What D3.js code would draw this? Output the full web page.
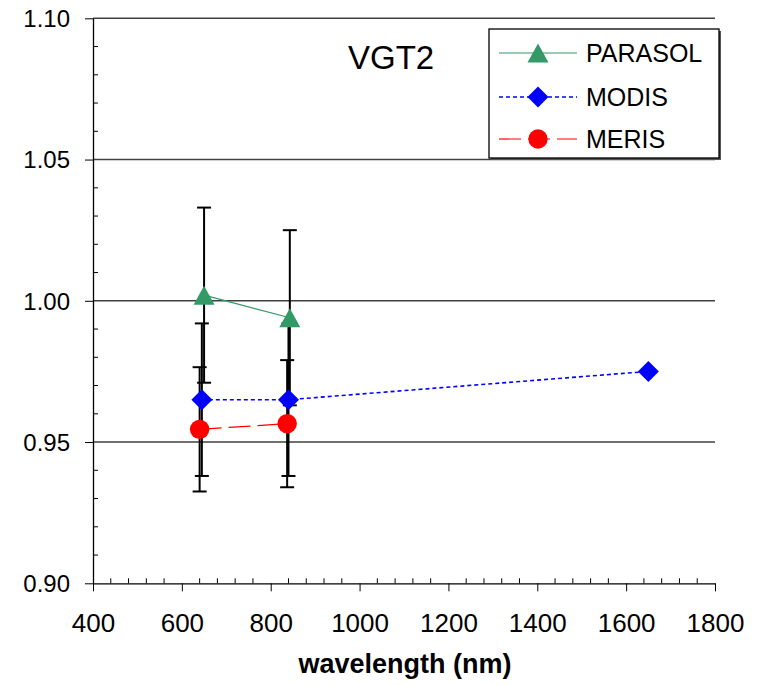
<!DOCTYPE html>
<html><head><meta charset="utf-8">
<script src="https://cdn.jsdelivr.net/npm/d3@7"></script>
<style>body{margin:0;background:#fff} text{font-family:"Liberation Sans",Arial,sans-serif;fill:#000}</style>
</head><body><svg id="c" width="769" height="686"></svg>
<script>
// ---- data ----
const xTicks = [400, 600, 800, 1000, 1200, 1400, 1600, 1800];
const yTicks = [0.90, 0.95, 1.00, 1.05, 1.10];
const yTickLabels = ["0.90", "0.95", "1.00", "1.05", "1.10"];
const seriesNames = ["PARASOL", "MODIS", "MERIS"];
const parasolX = [650, 843];
const parasolY = [1.002, 0.994];
const parasolErr = [0.031, 0.031];
const modisX = [645, 840, 1650];
const modisY = [0.965, 0.965, 0.975];
const modisErr = [0.027, 0.027, 0];
const merisX = [640, 837];
const merisY = [0.9545, 0.9565];
const merisErr = [0.022, 0.0225];
const chartTitle = "VGT2";
const xTitle = "wavelength (nm)";

// ---- layout ----
const svg = d3.select("#c");
const L = 93, R = 715, T = 18.3, B = 583.3;
const x = d3.scaleLinear().domain([400, 1800]).range([L, R]);
const y = d3.scaleLinear().domain([0.90, 1.10]).range([B, T]);

const series = [
  {name: seriesNames[0], xs: parasolX, ys: parasolY, err: parasolErr, color: "#339966", dash: null, sw: 1.2, marker: "tri"},
  {name: seriesNames[1], xs: modisX, ys: modisY, err: modisErr, color: "#0000ff", dash: "4,3", sw: 1.6, marker: "dia"},
  {name: seriesNames[2], xs: merisX, ys: merisY, err: merisErr, color: "#ff0000", dash: "22,7", sw: 1.2, marker: "cir"}
];

function markerPath(type, cx, cy, s) {
  const p = d3.path();
  if (type === "tri") {
    const w = 21 * s, h = 19 * s;
    p.moveTo(cx, cy - h / 2); p.lineTo(cx + w / 2, cy + h / 2); p.lineTo(cx - w / 2, cy + h / 2); p.closePath();
  } else if (type === "dia") {
    const r = 10.5 * s;
    p.moveTo(cx, cy - r); p.lineTo(cx + r, cy); p.lineTo(cx, cy + r); p.lineTo(cx - r, cy); p.closePath();
  } else {
    const r = 9.7 * s;
    p.moveTo(cx + r, cy); p.arc(cx, cy, r, 0, 2 * Math.PI);
  }
  return p.toString();
}

// gridlines
svg.append("g").selectAll("line").data(yTicks.filter(v => v > 0.90)).join("line")
  .attr("x1", L).attr("x2", R).attr("y1", d => y(d)).attr("y2", d => y(d))
  .attr("stroke", "#404040").attr("stroke-width", 1.5);

// minor ticks
const xMinor = d3.range(400, 1801, 40).filter(v => !xTicks.includes(v));
svg.append("g").selectAll("line").data(xMinor).join("line")
  .attr("x1", d => x(d)).attr("x2", d => x(d)).attr("y1", B).attr("y2", B - 5)
  .attr("stroke", "#000").attr("stroke-width", 1);
const yMinor = d3.range(0, 21).map(i => 0.90 + i * 0.01).filter(v => Math.abs(Math.round(v * 20) - v * 20) > 0.01);
svg.append("g").selectAll("line").data(yMinor).join("line")
  .attr("x1", L).attr("x2", L + 5).attr("y1", d => y(d)).attr("y2", d => y(d))
  .attr("stroke", "#000").attr("stroke-width", 1);

// axes
const xAxis = svg.append("g").attr("transform", `translate(0,${B})`)
  .call(d3.axisBottom(x).tickValues(xTicks).tickSize(8).tickSizeOuter(0).tickFormat(d3.format("d")));
xAxis.select(".domain").attr("stroke", "#000").attr("stroke-width", 1.3);
xAxis.selectAll(".tick line").attr("stroke", "#000");
xAxis.selectAll(".tick text").attr("font-size", 26).attr("y", 48.5).attr("dy", 0)
  .style("font-family", '"Liberation Sans",Arial,sans-serif');

const yAxis = svg.append("g").attr("transform", `translate(${L},0)`)
  .call(d3.axisLeft(y).tickValues(yTicks).tickSize(8).tickSizeOuter(0).tickFormat((d, i) => yTickLabels[i]));
yAxis.select(".domain").attr("stroke", "#000").attr("stroke-width", 1.3);
yAxis.selectAll(".tick line").attr("stroke", "#000");
yAxis.selectAll(".tick text").attr("font-size", 24).attr("x", -23).attr("dy", "0.35em")
  .style("font-family", '"Liberation Sans",Arial,sans-serif');

// error bars
const eb = svg.append("g");
series.forEach(s => {
  s.xs.forEach((xv, i) => {
    const e = s.err[i];
    if (!e) return;
    const cx = x(xv), y1 = y(s.ys[i] + e), y2 = y(s.ys[i] - e);
    eb.append("line").attr("x1", cx).attr("x2", cx).attr("y1", y1).attr("y2", y2).attr("stroke", "#000").attr("stroke-width", 2);
    [y1, y2].forEach(yy => eb.append("line").attr("x1", cx - 7).attr("x2", cx + 7).attr("y1", yy).attr("y2", yy).attr("stroke", "#000").attr("stroke-width", 2));
  });
});

// lines and markers
series.forEach(s => {
  const pts = s.xs.map((xv, i) => [xv, s.ys[i]]);
  svg.append("path").datum(pts)
    .attr("d", d3.line().x(d => x(d[0])).y(d => y(d[1])))
    .attr("fill", "none").attr("stroke", s.color).attr("stroke-width", s.sw)
    .attr("stroke-dasharray", s.dash);
});
series.forEach(s => {
  svg.append("g").selectAll("path").data(s.xs.map((xv, i) => [xv, s.ys[i]])).join("path")
    .attr("d", d => markerPath(s.marker, x(d[0]), y(d[1]), 1))
    .attr("fill", s.color);
});

// title
svg.append("text").attr("x", 348).attr("y", 69).attr("font-size", 33).text(chartTitle);

// x axis title
svg.append("text").attr("x", 405).attr("y", 673).attr("text-anchor", "middle")
  .attr("font-size", 27).attr("font-weight", "bold").text(xTitle);

// legend
const lg = svg.append("g");
lg.append("rect").attr("x", 491).attr("y", 31).attr("width", 230).attr("height", 129).attr("fill", "#555");
lg.append("rect").attr("x", 489).attr("y", 29).attr("width", 230).attr("height", 129)
  .attr("fill", "#fff").attr("stroke", "#000").attr("stroke-width", 1.3);
const rowsY = [53, 97, 139];
series.forEach((s, i) => {
  const yy = rowsY[i];
  lg.append("line").attr("x1", 499).attr("x2", 577).attr("y1", yy).attr("y2", yy)
    .attr("stroke", s.color).attr("stroke-width", s.sw).attr("stroke-dasharray", s.dash);
  lg.append("path").attr("d", markerPath(s.marker, 538, yy, 1)).attr("fill", s.color);
  lg.append("text").attr("x", 586).attr("y", yy).attr("dy", "0.36em").attr("font-size", 25).text(s.name);
});
</script></body></html>
